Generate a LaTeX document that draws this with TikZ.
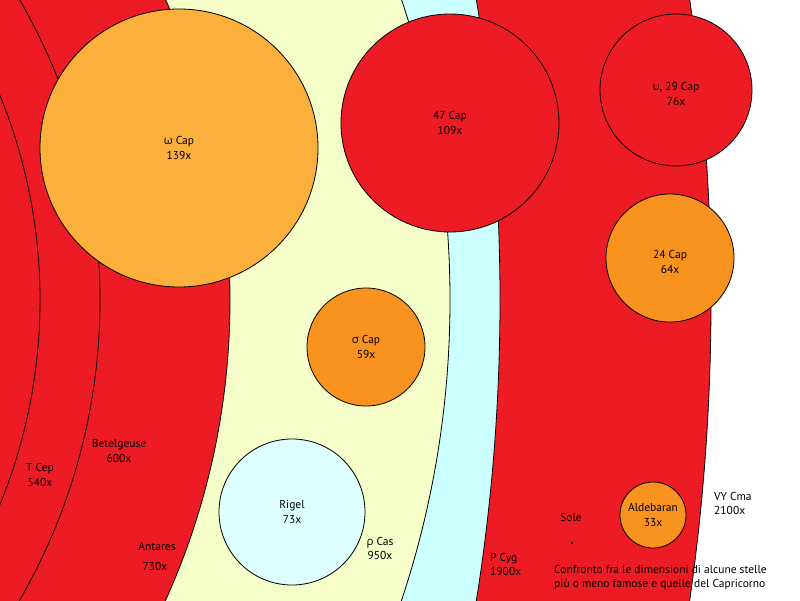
\documentclass[tikz,border=0pt]{standalone}
\usepackage{fontspec}
\setmainfont{PT Sans}
\newfontfamily\grk{Open Sans}
\definecolor{sred}{HTML}{ED1C24}
\definecolor{syel}{HTML}{F5FDC8}
\definecolor{scya}{HTML}{CCFFFF}
\definecolor{srig}{HTML}{DDFFFF}
\definecolor{sorl}{HTML}{FBB03B}
\definecolor{sord}{HTML}{F7931E}
\newcommand{\lblfont}{\fontsize{11.5}{14.5}\selectfont}
\begin{document}
\begin{tikzpicture}[x=1pt,y=-1pt,
  ring/.style={draw=black, line width=0.8pt},
  star/.style={circle, draw=black, line width=0.8pt, inner sep=0pt, align=center, font=\lblfont},
  lbl/.style={inner sep=0pt, align=center, font=\lblfont},
  lbll/.style={inner sep=0pt, align=left, anchor=west, font=\lblfont}]
\useasboundingbox (0,0) rectangle (800,600);
\fill[white] (0,0) rectangle (800,600);
\begin{scope}
\clip (0,0) rectangle (800,600);
\coordinate (cvy) at (-1389,300);
\coordinate (cpc) at (-1400,300);
\coordinate (c0) at (-500,300);
\draw[ring, fill=sred] (cvy) circle (2100pt);
\draw[ring, fill=scya] (cpc) circle (1900pt);
\draw[ring, fill=syel] (c0) circle (950pt);
\draw[ring, fill=sred] (c0) circle (730pt);
\draw[ring, fill=sred] (c0) circle (600pt);
\draw[ring, fill=sred] (c0) circle (540pt);
\end{scope}
% small stars
\node[star, fill=sorl, minimum size=278pt] (omega) at (179,148) {{\grk ω} Cap\\139x};
\node[star, fill=sred, minimum size=218pt] (c47) at (450,123) {47 Cap\\109x};
\node[star, fill=sred, minimum size=152pt] (ups) at (676,90) {};
\node[lbl] (lups) at (676,94) {{\grk υ}, 29 Cap\\76x};
\node[star, fill=sord, minimum size=128pt] (c24) at (670,258) {};
\node[lbl] (l24) at (670,262) {24 Cap\\64x};
\node[star, fill=sord, minimum size=118pt] (sigma) at (366,347) {{\grk σ} Cap\\59x};
\node[star, fill=srig, minimum size=146pt] (rigel) at (292,512) {Rigel\\73x};
\node[star, fill=sord, minimum size=66pt] (alde) at (653,515) {Aldebaran\\33x};
\node[circle, fill=black, inner sep=0pt, minimum size=2.4pt] (sun) at (572,543) {};
% labels of large stars
\node[lbl] (ltcep) at (40,475) {T Cep\\540x};
\node[lbl] (lbet) at (119,451) {Betelgeuse\\600x};
\node[lbl] (lant) at (157,546) {Antares};
\node[lbl] (lantv) at (155,566) {730x};
\node[lbl] (lrho) at (380,548.5) {{\grk ρ} Cas\\950x};
\node[lbll] (lpcyg) at (490,564.5) {P Cyg\\1900x};
\node[lbll] (lvy) at (714,503.5) {VY Cma\\2100x};
\node[lbl] (lsole) at (571,517) {Sole};
\node[lbll] (ltitle) at (554,577.5) {Confronto fra le dimensioni di alcune stelle\\più o meno famose e quelle del Capricorno};
\end{tikzpicture}
\end{document}
